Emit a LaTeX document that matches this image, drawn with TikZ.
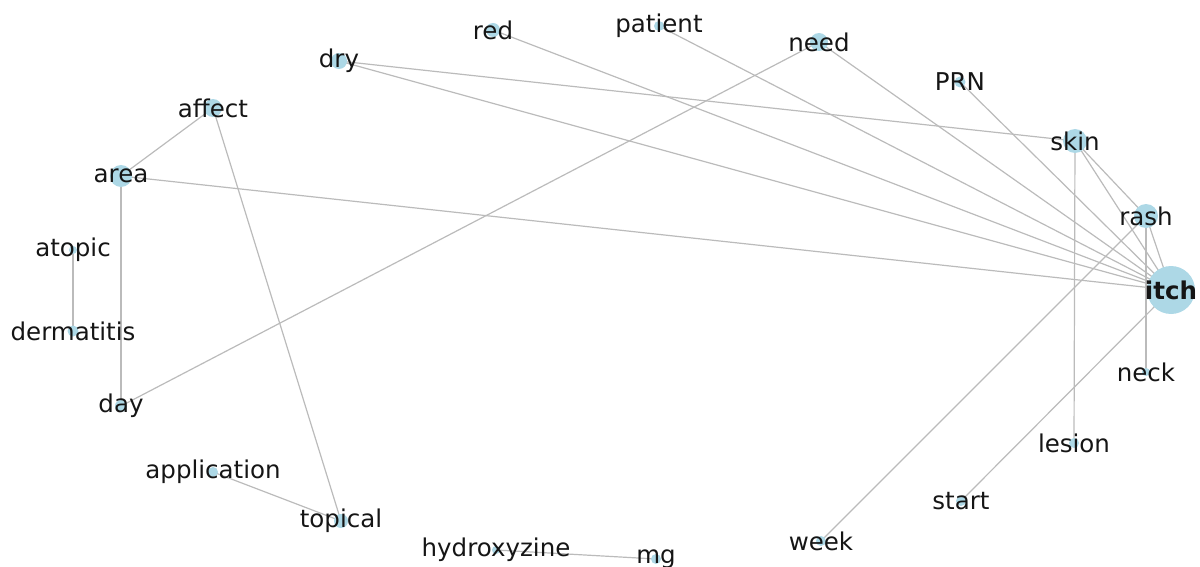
\documentclass[tikz,border=0pt]{standalone}
\usepackage{fontspec}
\setmainfont{DejaVu Sans}
\definecolor{nodeblue}{HTML}{ADD8E6}
\definecolor{edgegray}{HTML}{BBBBBB}
\definecolor{txt}{HTML}{151515}
\pgfdeclarelayer{background}
\pgfsetlayers{background,main}
\tikzset{
  dot/.style={circle, fill=nodeblue, draw=none, inner sep=0pt, minimum size=#1},
  lab/.style={font=\fontsize{24.5}{24.5}\selectfont, text=txt, inner sep=0pt, anchor=center},
  boldlab/.style={lab, font=\fontsize{24.5}{24.5}\selectfont\bfseries},
  edge/.style={draw=edgegray, line width=1.2pt}
}
\begin{document}
\begin{tikzpicture}[x=1pt,y=-1pt]
\useasboundingbox (0,0) rectangle (1200,567);
% circles
\node[dot=48pt] (itch) at (1171,290) {};
\node[dot=24pt] (rash) at (1146,216) {};
\node[dot=24pt] (skin) at (1075,141) {};
\node[dot=11pt] (PRN) at (960,82) {};
\node[dot=18pt] (need) at (819,42) {};
\node[dot=10pt] (patient) at (659,26) {};
\node[dot=14pt] (red) at (493,30) {};
\node[dot=16pt] (dry) at (339,61) {};
\node[dot=18pt] (affect) at (213,108) {};
\node[dot=22pt] (area) at (121,176) {};
\node[dot=8pt] (atopic) at (73,250) {};
\node[dot=11pt] (dermatitis) at (73,331) {};
\node[dot=12pt] (day) at (121,406) {};
\node[dot=10pt] (application) at (213,472) {};
\node[dot=14pt] (topical) at (341,521) {};
\node[dot=8pt] (hydroxyzine) at (496,550) {};
\node[dot=10pt] (mg) at (656,559) {};
\node[dot=10pt] (week) at (821,541) {};
\node[dot=10pt] (start) at (961,501) {};
\node[dot=10pt] (lesion) at (1074,443) {};
\node[dot=8pt] (neck) at (1146,372) {};
% edges
\begin{pgfonlayer}{background}
\foreach \a/\b in {affect/area, affect/topical, area/day, area/itch,
  atopic/dermatitis, day/need, application/topical, hydroxyzine/mg,
  dry/skin, dry/itch, red/itch, patient/itch, need/itch, PRN/itch,
  skin/rash, skin/itch, skin/lesion, rash/itch, rash/neck, rash/week,
  itch/start}
  \draw[edge] (\a.center) -- (\b.center);
\end{pgfonlayer}
% labels
\node[boldlab] (itchL) at (itch) {itch};
\node[lab] (rashL) at (rash) {rash};
\node[lab] (skinL) at (skin) {skin};
\node[lab] (PRNL) at (PRN) {PRN};
\node[lab] (needL) at (need) {need};
\node[lab] (patientL) at (patient) {patient};
\node[lab] (redL) at (red) {red};
\node[lab] (dryL) at (dry) {dry};
\node[lab] (affectL) at (affect) {affect};
\node[lab] (areaL) at (area) {area};
\node[lab] (atopicL) at (atopic) {atopic};
\node[lab] (dermatitisL) at (dermatitis) {dermatitis};
\node[lab] (dayL) at (day) {day};
\node[lab] (applicationL) at (application) {application};
\node[lab] (topicalL) at (topical) {topical};
\node[lab] (hydroxyzineL) at (hydroxyzine) {hydroxyzine};
\node[lab] (mgL) at (mg) {mg};
\node[lab] (weekL) at (week) {week};
\node[lab] (startL) at (start) {start};
\node[lab] (lesionL) at (lesion) {lesion};
\node[lab] (neckL) at (neck) {neck};
\end{tikzpicture}
\end{document}
